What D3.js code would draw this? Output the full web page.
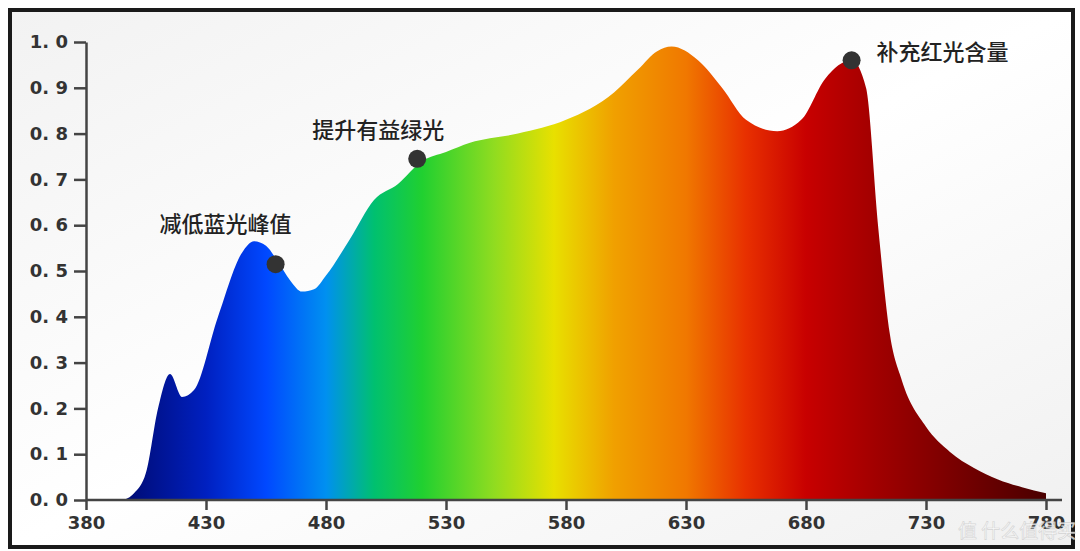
<!DOCTYPE html>
<html><head><meta charset="utf-8">
<script src="https://cdn.jsdelivr.net/npm/d3@7"></script>
<style>body{margin:0;background:#fff;font-family:"Noto Sans CJK SC","DejaVu Sans",sans-serif}</style>
</head><body>
<svg id="c" width="1080" height="551"></svg>
<script>
const wavelengths = [395,400,405,410,415,420,425,435,445,450,455,460,465,470,475,480,490,500,510,520,530,540,560,580,600,610,618,624,635,645,655,668,678,688,699,705,710,715,720,730,740,750,760,770,780];
const intensity   = [0,0.015,0.06,0.2,0.275,0.225,0.24,0.4,0.54,0.565,0.555,0.52,0.48,0.455,0.46,0.49,0.57,0.655,0.69,0.74,0.76,0.78,0.8,0.83,0.89,0.94,0.98,0.99,0.96,0.9,0.83,0.805,0.83,0.92,0.96,0.9,0.6,0.36,0.26,0.16,0.105,0.07,0.045,0.028,0.015];
const xTicks = [380,430,480,530,580,630,680,730,780];
const yTicks = [0,0.1,0.2,0.3,0.4,0.5,0.6,0.7,0.8,0.9,1.0];
const markers = [{w:459,v:0.515,label:"减低蓝光峰值",dx:-116,dy:-32},{w:518,v:0.745,label:"提升有益绿光",dx:-105,dy:-21},{w:699,v:0.96,label:"补充红光含量",dx:25,dy:-0}];
const stops = [[395,"#000a70"],[430,"#0020c0"],[455,"#0048ff"],[480,"#0090f0"],[500,"#00c070"],[520,"#20d030"],[550,"#90dc20"],[575,"#e8e000"],[600,"#f0a000"],[630,"#f07800"],[655,"#e83000"],[680,"#c80000"],[710,"#a00000"],[780,"#4a0000"]];

const svg = d3.select("#c");
const x = d3.scaleLinear().domain([380,780]).range([86,1046]);
const y = d3.scaleLinear().domain([0,1]).range([500,42]);
const defs = svg.append("defs");
const bg = defs.append("linearGradient").attr("id","bg").attr("x1",0).attr("x2",1).attr("y1",0).attr("y2",1);
bg.append("stop").attr("offset","0").attr("stop-color","#f2f2f2");
bg.append("stop").attr("offset","0.5").attr("stop-color","#ffffff");
bg.append("stop").attr("offset","1").attr("stop-color","#f0f0f0");
svg.append("rect").attr("x",10).attr("y",10).attr("width",1063).attr("height",537).attr("fill","url(#bg)").attr("stroke","#1a1a1a").attr("stroke-width",4);

const g = defs.append("linearGradient").attr("id","spec").attr("gradientUnits","userSpaceOnUse")
  .attr("x1",x(380)).attr("x2",x(780)).attr("y1",0).attr("y2",0);
stops.forEach(s=>g.append("stop").attr("offset",(s[0]-380)/400).attr("stop-color",s[1]));

const pts = wavelengths.map((w,i)=>[w,intensity[i]]);
svg.append("path").datum(pts)
  .attr("d",d3.area().x(d=>x(d[0])).y0(y(0)).y1(d=>y(d[1])).curve(d3.curveMonotoneX))
  .attr("fill","url(#spec)");

const ax = svg.append("g").attr("transform","translate(0,500)")
  .call(d3.axisBottom(x).tickValues(xTicks).tickSize(10).tickSizeOuter(0).tickPadding(6));
ax.select(".domain").attr("d","M86,0H1062");
const ay = svg.append("g").attr("transform","translate(86,0)")
  .call(d3.axisLeft(y).tickValues(yTicks).tickSize(12).tickSizeOuter(0).tickPadding(6).tickFormat(d=>d3.format(".1f")(d).replace(".",". ")));
[ax,ay].forEach(a=>{a.selectAll("path,line").attr("stroke","#444").attr("stroke-width",2.5);
  a.selectAll("text").attr("font-size",18).attr("font-weight","bold").attr("fill","#333").attr("font-family","DejaVu Sans, sans-serif");});

markers.forEach(m=>{
  svg.append("circle").attr("cx",x(m.w)).attr("cy",y(m.v)).attr("r",9).attr("fill","#333");
  svg.append("text").attr("x",x(m.w)+m.dx).attr("y",y(m.v)+m.dy).attr("font-size",22).attr("font-weight",500).attr("fill","#222").text(m.label);
});
svg.append("text").attr("x",958).attr("y",538).attr("font-size",19).attr("fill","#fff").attr("opacity",0.8).attr("stroke","#ccc").attr("stroke-width",0.6).text("值 什么值得买");
</script>
</body></html>
